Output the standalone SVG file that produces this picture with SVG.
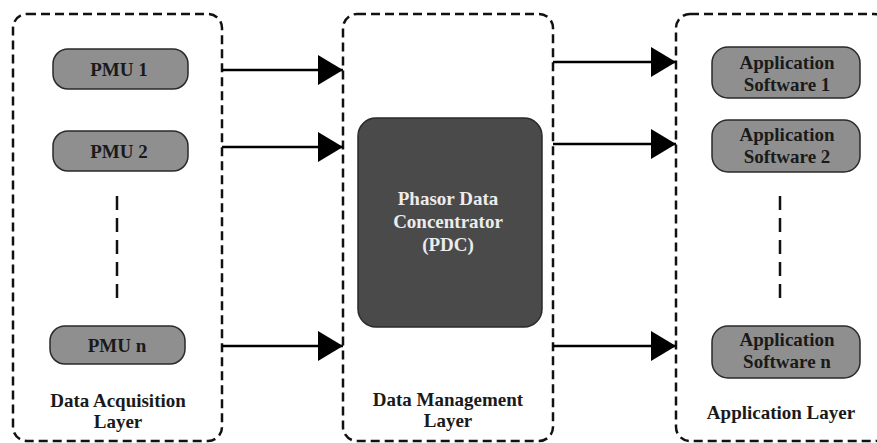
<svg xmlns="http://www.w3.org/2000/svg" width="877" height="443" viewBox="0 0 877 443">
<defs>
<marker id="arr" viewBox="0 0 25 30" refX="25" refY="15" markerWidth="25" markerHeight="30" markerUnits="userSpaceOnUse" orient="auto">
<path d="M0,0 L25,15 L0,30 Z" fill="#000"/>
</marker>
<style>
.layer{fill:none;stroke:#111;stroke-width:2.5;stroke-dasharray:9 5}
.node{fill:#8f8f8f;stroke:#2a2a2a;stroke-width:1.5}
.pdc{fill:#4a4a4a;stroke:#2a2a2a;stroke-width:1.5}
.t{font-weight:bold;font-size:19px;fill:#1a1a1a;text-anchor:middle}
.tw{font-weight:bold;font-size:19px;fill:#ececec;text-anchor:middle}
.conn{stroke:#000;stroke-width:2.5;fill:none}
.vd{stroke:#111;stroke-width:2.5;stroke-dasharray:14 8;fill:none}
</style>
</defs>
<rect width="877" height="443" fill="#fff"/>
<g font-family="Liberation Serif, Times New Roman, serif">
<g id="acq-layer">
<rect class="layer" x="13" y="14" width="209" height="427" rx="14"/>
<text class="t" x="118" y="407">Data Acquisition</text>
<text class="t" x="118" y="428">Layer</text>
<line class="vd" x1="117" y1="196" x2="117" y2="302"/>
</g>
<g id="mgmt-layer">
<rect class="layer" x="343" y="14" width="210" height="427" rx="14"/>
<text class="t" x="448" y="406">Data Management</text>
<text class="t" x="448" y="427">Layer</text>
</g>
<g id="app-layer">
<rect class="layer" x="676" y="14" width="212" height="427" rx="14"/>
<text class="t" x="781" y="419">Application Layer</text>
<line class="vd" x1="780" y1="196" x2="780" y2="302"/>
</g>
<g id="pmu1">
<rect class="node" x="53" y="49" width="135" height="40" rx="15"/>
<text class="t" x="119" y="76">PMU 1</text>
</g>
<g id="pmu2">
<rect class="node" x="53" y="131" width="135" height="40" rx="15"/>
<text class="t" x="119" y="158">PMU 2</text>
</g>
<g id="pmun">
<rect class="node" x="50" y="326" width="135" height="38" rx="15"/>
<text class="t" x="117" y="352">PMU n</text>
</g>
<g id="pdc">
<rect class="pdc" x="358" y="118" width="184" height="209" rx="18"/>
<text class="tw" x="448" y="205">Phasor Data</text>
<text class="tw" x="448" y="228">Concentrator</text>
<text class="tw" x="448" y="251">(PDC)</text>
</g>
<g id="app1">
<rect class="node" x="712" y="47" width="148" height="51" rx="16"/>
<text class="t" x="787" y="69">Application</text>
<text class="t" x="787" y="91">Software 1</text>
</g>
<g id="app2">
<rect class="node" x="712" y="120" width="148" height="52" rx="16"/>
<text class="t" x="787" y="141">Application</text>
<text class="t" x="787" y="163">Software 2</text>
</g>
<g id="appn">
<rect class="node" x="712" y="326" width="148" height="52" rx="16"/>
<text class="t" x="787" y="346">Application</text>
<text class="t" x="787" y="368">Software n</text>
</g>
</g>
<g id="connectors">
<line class="conn" x1="222" y1="70" x2="343" y2="70" marker-end="url(#arr)"/>
<line class="conn" x1="222" y1="147" x2="343" y2="147" marker-end="url(#arr)"/>
<line class="conn" x1="222" y1="346" x2="343" y2="346" marker-end="url(#arr)"/>
<line class="conn" x1="553" y1="62" x2="676" y2="62" marker-end="url(#arr)"/>
<line class="conn" x1="553" y1="144" x2="676" y2="144" marker-end="url(#arr)"/>
<line class="conn" x1="553" y1="346" x2="676" y2="346" marker-end="url(#arr)"/>
</g>
</svg>
